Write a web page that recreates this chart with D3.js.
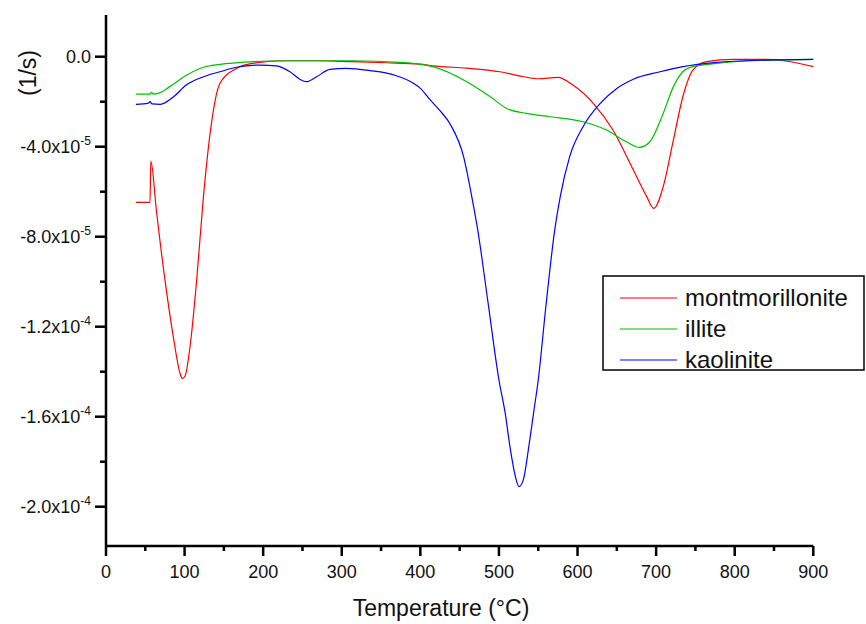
<!DOCTYPE html>
<html><head><meta charset="utf-8">
<script src="https://cdn.jsdelivr.net/npm/d3@7"></script>
<style>body{margin:0;background:#fff}svg{display:block}text{font-family:"Liberation Sans",Arial,sans-serif;fill:#111}</style>
</head><body><svg id="c" width="866" height="624"></svg>
<script>
// values in units of 1e-5 (1/s)
const montT = [38,56,57,64.5,75,85.6,94.2,97,100.5,106.9,115.4,124,133,145,166,186,229,271,313,357,399,416,459,501,530,550,575,594,620,645,671,688,697,709,722,734,747,764,798,840,862,900];
const montV = [-6.47,-6.47,-4.64,-6.96,-9.92,-12.44,-14.07,-14.3,-14.2,-12.89,-9.92,-6.22,-3.26,-1.18,-0.52,-0.3,-0.18,-0.18,-0.22,-0.27,-0.33,-0.41,-0.51,-0.67,-0.88,-0.98,-0.92,-1.26,-2.07,-3.26,-5.04,-6.22,-6.74,-5.78,-3.70,-1.78,-0.59,-0.22,-0.12,-0.12,-0.18,-0.44];
const illT = [38,56,58,60,66.5,81,103,124,145,187,229,315,374,416,459,489,510,535,565,607,637,662,679,692,709,722,734,747,777,819,900];
const illV = [-1.66,-1.66,-1.58,-1.66,-1.63,-1.33,-0.81,-0.47,-0.34,-0.22,-0.18,-0.18,-0.25,-0.44,-1.11,-1.78,-2.30,-2.52,-2.67,-2.89,-3.26,-3.78,-4.03,-3.78,-2.52,-1.33,-0.67,-0.44,-0.30,-0.18,-0.12];
const kaoT = [38,54,56,58.5,69,86,102,124,145,166,196,217,234,247,255,268,285,306,336,366,391,400,412,425,438,455,467,473,486,500,508,514,521,525.5,531,538,544,550,560,571,578,590,607,629,650,671,705,734,777,840,900];
const kaoV = [-2.12,-2.06,-2.0,-2.1,-2.12,-1.78,-1.26,-0.89,-0.67,-0.47,-0.37,-0.41,-0.67,-1.01,-1.11,-0.89,-0.56,-0.52,-0.62,-0.81,-1.18,-1.41,-1.9,-2.4,-3.0,-4.44,-6.52,-7.70,-10.9,-14.37,-15.85,-17.33,-18.67,-19.11,-18.81,-17.33,-15.85,-14.37,-11.0,-7.70,-6.22,-4.44,-3.11,-2.07,-1.41,-1.0,-0.67,-0.44,-0.25,-0.15,-0.12];
const seriesNames = ["montmorillonite","illite","kaolinite"];
const seriesColors = ["#ff0000","#00c000","#0000ff"];
const xTicks = [0,100,200,300,400,500,600,700,800,900];
const yTicks = [0,-4,-8,-12,-16,-20];
const yTickMain = ["0.0","-4.0x10","-8.0x10","-1.2x10","-1.6x10","-2.0x10"];
const yTickExp = ["","-5","-5","-4","-4","-4"];

const svg = d3.select("#c");
const x = d3.scaleLinear().domain([0,900]).range([106,813.3]);
const y = d3.scaleLinear().domain([0,-4]).range([56.7,146.7]);
const yBottom = 546, yTop = 15;

const series = [
  {name:seriesNames[0], color:seriesColors[0], T:montT, V:montV},
  {name:seriesNames[1], color:seriesColors[1], T:illT, V:illV},
  {name:seriesNames[2], color:seriesColors[2], T:kaoT, V:kaoV}
];
const line = d3.line().x(d=>x(d[0])).y(d=>y(d[1])).curve(d3.curveMonotoneX);
series.forEach(s=>{
  svg.append("path").attr("d", line(s.T.map((t,i)=>[t,s.V[i]])))
    .attr("fill","none").attr("stroke",s.color).attr("stroke-width",1.2);
});

// axes
const ax = svg.append("g").attr("stroke","#000").attr("stroke-width",2.5);
ax.append("line").attr("x1",x(0)).attr("x2",x(900)).attr("y1",yBottom).attr("y2",yBottom);
ax.append("line").attr("x1",x(0)).attr("x2",x(0)).attr("y1",yTop).attr("y2",yBottom);
d3.range(0,901,50).forEach(v=>{
  const major = v%100===0;
  ax.append("line").attr("x1",x(v)).attr("x2",x(v)).attr("y1",yBottom).attr("y2",yBottom+(major?10:5));
});
d3.range(0,-21,-2).forEach(v=>{
  const major = v%4===0;
  ax.append("line").attr("x1",x(0)).attr("x2",x(0)-(major?11:6)).attr("y1",y(v)).attr("y2",y(v));
});
xTicks.forEach(v=>{
  svg.append("text").attr("x",x(v)).attr("y",578).attr("text-anchor","middle").attr("font-size",18).text(v);
});
yTicks.forEach((v,i)=>{
  const t = svg.append("text").attr("x",91).attr("y",y(v)+6).attr("text-anchor","end").attr("font-size",18);
  t.append("tspan").text(yTickMain[i]);
  if (yTickExp[i]) t.append("tspan").attr("font-size",12).attr("dy",-8).text(yTickExp[i]);
});
svg.append("text").attr("x",441).attr("y",616).attr("text-anchor","middle").attr("font-size",23).text("Temperature (°C)");
svg.append("text").attr("transform","translate(36,73) rotate(-90)").attr("text-anchor","middle").attr("font-size",23).text("(1/s)");

// legend
svg.append("rect").attr("x",603).attr("y",276).attr("width",261).attr("height",94).attr("fill","#fff").attr("stroke","#000").attr("stroke-width",1.5);
const ly = [298,329,360];
series.forEach((s,i)=>{
  svg.append("line").attr("x1",620).attr("x2",677).attr("y1",ly[i]).attr("y2",ly[i]).attr("stroke",s.color).attr("stroke-width",1.2);
  svg.append("text").attr("x",685).attr("y",ly[i]+8).attr("font-size",24).text(s.name);
});
</script></body></html>
